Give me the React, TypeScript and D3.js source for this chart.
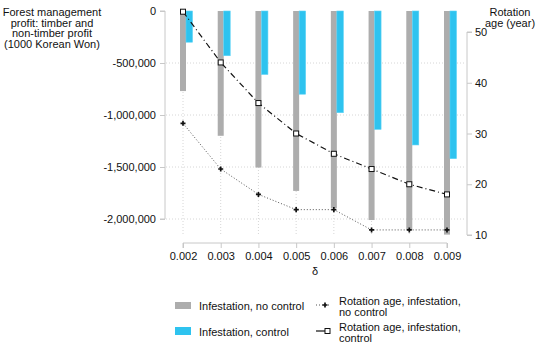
import React, { useRef, useEffect } from 'react';
import * as d3 from 'd3';

const deltas = [0.002, 0.003, 0.004, 0.005, 0.006, 0.007, 0.008, 0.009];
const profitNoControl = [-770000, -1200000, -1505000, -1730000, -1895000, -2010000, -2100000, -2150000];
const profitControl = [-300000, -430000, -610000, -800000, -978000, -1138000, -1288000, -1420000];
const rotationNoControl = [32, 23, 18, 15, 15, 11, 11, 11];
const rotationControl = [54, 44, 36, 30, 26, 23, 20, 18];
const leftTicks = [0, -500000, -1000000, -1500000, -2000000];
const rightTicks = [10, 20, 30, 40, 50];

function App() {
  const ref = useRef<SVGSVGElement>(null);
  const outerWidth = 550, outerHeight = 348;
  const font = 'Liberation Sans, Arial, sans-serif';

  useEffect(() => {
    const svg = d3.select(ref.current);
    svg.selectAll('*').remove();

    const x = d3.scaleLinear().domain([0.002, 0.009]).range([183, 447]);
    const yL = d3.scaleLinear().domain([0, -2000000]).range([11, 219]);
    const yR = d3.scaleLinear().domain([10, 50]).range([235, 32]);

    const grid = svg.append('g');
    leftTicks.slice(1).forEach((t) => {
      grid.append('line')
        .attr('x1', 166).attr('x2', 466)
        .attr('y1', yL(t)).attr('y2', yL(t))
        .attr('stroke', '#d6d6d6').attr('stroke-dasharray', '1,2');
    });
    deltas.forEach((d) => {
      grid.append('line')
        .attr('x1', x(d)).attr('x2', x(d))
        .attr('y1', 11).attr('y2', 236)
        .attr('stroke', '#d6d6d6').attr('stroke-dasharray', '1,2');
    });

    // bars
    svg.append('g').selectAll('rect').data(deltas).enter().append('rect')
      .attr('x', (d) => x(d) - 3)
      .attr('y', yL(0))
      .attr('width', 6)
      .attr('height', (d, i) => yL(profitNoControl[i]) - yL(0))
      .attr('fill', '#adadad');
    svg.append('g').selectAll('rect').data(deltas).enter().append('rect')
      .attr('x', (d) => x(d) + 3)
      .attr('y', yL(0))
      .attr('width', 6.5)
      .attr('height', (d, i) => yL(profitControl[i]) - yL(0))
      .attr('fill', '#2ec3ef')
      .attr('stroke', '#5dd3f5').attr('stroke-width', 0.6);

    // rotation lines
    const line = d3.line<number>()
      .x((d, i) => x(deltas[i]))
      .y((d) => yR(d));
    svg.append('path').datum(rotationNoControl)
      .attr('d', line)
      .attr('fill', 'none').attr('stroke', '#555').attr('stroke-width', 1)
      .attr('stroke-dasharray', '1,2');
    svg.append('path').datum(rotationControl)
      .attr('d', line)
      .attr('fill', 'none').attr('stroke', '#111').attr('stroke-width', 1.2)
      .attr('stroke-dasharray', '6,3,1,3');

    const plus = d3.symbol().type(d3.symbolCross).size(14);
    svg.append('g').selectAll('path').data(rotationNoControl).enter().append('path')
      .attr('d', plus)
      .attr('transform', (d, i) => `translate(${x(deltas[i])},${yR(d)})`)
      .attr('fill', '#111');
    svg.append('g').selectAll('rect').data(rotationControl).enter().append('rect')
      .attr('x', (d, i) => x(deltas[i]) - 2.5)
      .attr('y', (d) => yR(d) - 2.5)
      .attr('width', 5).attr('height', 5)
      .attr('fill', 'white').attr('stroke', '#111').attr('stroke-width', 1);

    // axes
    const axisColor = '#c8c8c8';
    const comma = d3.format(',');
    const leftAxis = d3.axisLeft(yL).tickValues(leftTicks).tickSize(5).tickPadding(4)
      .tickFormat((d) => comma(d as number).replace('\u2212', '-'));
    const gL = svg.append('g').attr('transform', 'translate(165,0)').call(leftAxis);
    const rightAxis = d3.axisRight(yR).tickValues(rightTicks).tickSize(5).tickPadding(3);
    const gR = svg.append('g').attr('transform', 'translate(467,0)').call(rightAxis);
    const bottomAxis = d3.axisBottom(x).tickValues(deltas).tickSize(5).tickPadding(4)
      .tickFormat((d) => d3.format('.3f')(d as number));
    const gB = svg.append('g').attr('transform', 'translate(0,243)').call(bottomAxis);
    [gL, gR, gB].forEach((g) => {
      g.select('.domain').attr('stroke', axisColor);
      g.selectAll('.tick line').attr('stroke', axisColor);
      g.selectAll('.tick text').attr('fill', '#111').style('font-family', font).style('font-size', '11px');
    });
    gL.select('.domain').attr('d', `M-5,${yL(0)}H0V${yL(-2000000)}H-5`);
    gR.select('.domain').attr('d', `M5,${yR(50)}H0V${yR(10)}H5`);
    gB.select('.domain').attr('d', `M${x(0.002)},5V0H${x(0.009)}V5`);

    const text = (tx: number, ty: number, s: string, anchor = 'middle', size = 11) =>
      svg.append('text').attr('x', tx).attr('y', ty).attr('text-anchor', anchor)
        .style('font-family', font).style('font-size', size + 'px').attr('fill', '#111').text(s);

    ['Forest management', 'profit: timber and', 'non-timber profit', '(1000 Korean Won)']
      .forEach((s, i) => text(52, 16 + i * 10.5, s));
    ['Rotation', 'age (year)'].forEach((s, i) => text(510, 16 + i * 10.5, s));
    text(315, 275, 'δ', 'middle', 11);

    // legend
    svg.append('rect').attr('x', 175).attr('y', 302).attr('width', 16).attr('height', 7).attr('fill', '#adadad');
    text(199, 310, 'Infestation, no control', 'start');
    svg.append('rect').attr('x', 175).attr('y', 327).attr('width', 16).attr('height', 8).attr('fill', '#2ec3ef');
    text(199, 336, 'Infestation, control', 'start');

    svg.append('line').attr('x1', 316).attr('x2', 330).attr('y1', 305).attr('y2', 305)
      .attr('stroke', '#555').attr('stroke-dasharray', '1,2');
    svg.append('path').attr('d', plus).attr('transform', 'translate(325,305)').attr('fill', '#111');
    text(339, 305, 'Rotation age, infestation,', 'start');
    text(339, 316, 'no control', 'start');
    svg.append('line').attr('x1', 316).attr('x2', 327).attr('y1', 331).attr('y2', 331)
      .attr('stroke', '#111').attr('stroke-width', 1.2);
    svg.append('rect').attr('x', 325).attr('y', 328.5).attr('width', 5).attr('height', 5)
      .attr('fill', 'white').attr('stroke', '#111');
    text(339, 331, 'Rotation age, infestation,', 'start');
    text(339, 342, 'control', 'start');
  }, []);

  return (
    <div className="chart">
      <svg ref={ref} width={outerWidth} height={outerHeight}
        style={{ position: 'absolute', left: 0, top: 0, background: 'white' }}>
      </svg>
    </div>
  );
}

export default App;
